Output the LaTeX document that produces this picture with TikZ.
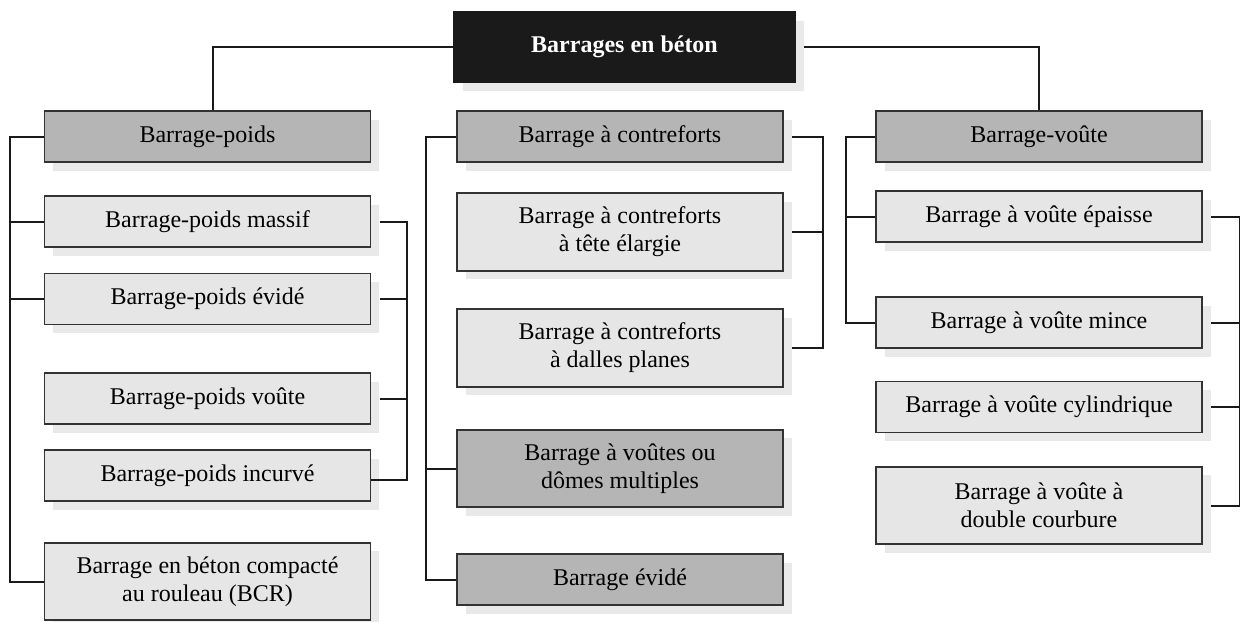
\documentclass[tikz,border=0pt]{standalone}
\usepackage{fontspec}
\setmainfont{Liberation Serif}
\usetikzlibrary{shadows}

\definecolor{fondclair}{HTML}{E6E6E6}
\definecolor{fondfonce}{HTML}{B5B5B5}
\definecolor{ombre}{HTML}{E9E9E9}
\definecolor{cadre}{HTML}{333333}
\definecolor{trait}{HTML}{1A1A1A}

\tikzset{
  boite/.style={draw=cadre, line width=0.9pt, align=center, inner sep=2pt,
    minimum width=163pt, minimum height=25.5pt, font=\fontsize{12}{14}\selectfont,
    drop shadow={shadow xshift=4.25pt, shadow yshift=-4.25pt, fill=ombre, opacity=1}},
  famille/.style={boite, fill=fondfonce},
  variante/.style={boite, fill=fondclair},
  deuxlignes/.style={minimum height=38.75pt},
  lien/.style={draw=trait, line width=1pt}
}

\begin{document}
\begin{tikzpicture}[x=0.5pt, y=-0.5pt]
\useasboundingbox (0,0) rectangle (1240,621);

% Racine
\node[boite, fill=trait, draw=trait, text=white, font=\fontsize{12}{14}\selectfont\bfseries,
      minimum width=170.5pt, minimum height=35pt] (racine) at (624.5,47) {Barrages en béton};

% Barrages-poids (gauche)
\node[famille] (poids) at (207.5,136.5) {Barrage-poids};
\node[variante] (massif) at (207.5,221.5) {Barrage-poids massif};
\node[variante] (evide) at (207.5,299) {Barrage-poids évidé};
\node[variante] (voutep) at (207.5,398.5) {Barrage-poids voûte};
\node[variante] (incurve) at (207.5,475.5) {Barrage-poids incurvé};
\node[variante, deuxlignes] (bcr) at (207.5,581.5) {Barrage en béton compacté\\au rouleau (BCR)};

% Barrages à contreforts (milieu)
\node[famille] (contreforts) at (620,136.5) {Barrage à contreforts};
\node[variante, deuxlignes] (tete) at (620,232) {Barrage à contreforts\\à tête élargie};
\node[variante, deuxlignes] (dalles) at (620,348) {Barrage à contreforts\\à dalles planes};
\node[famille, deuxlignes] (multiples) at (620,468.5) {Barrage à voûtes ou\\dômes multiples};
\node[famille] (evideb) at (620,579.5) {Barrage évidé};

% Barrages-voûtes (droite)
\node[famille] (voute) at (1039,136.5) {Barrage-voûte};
\node[variante] (epaisse) at (1039,216.5) {Barrage à voûte épaisse};
\node[variante] (mince) at (1039,322.5) {Barrage à voûte mince};
\node[variante] (cylindrique) at (1039,407) {Barrage à voûte cylindrique};
\node[variante, deuxlignes] (double) at (1039,505.5) {Barrage à voûte à\\double courbure};

% Liaisons depuis la racine
\draw[lien] (racine.west) -| ([xshift=2.5pt]poids.north);
\draw[lien] ([xshift=4.25pt]racine.east) -| (voute.north);

% Liaisons gauche
\coordinate (gauche) at ([xshift=-17pt]poids.west);
\draw[lien] (poids.west) -- (gauche) |- (bcr.west);
\foreach \n in {massif,evide}
    \draw[lien] (\n.west) -- (\n.west -| gauche);
\coordinate (gauched) at ([xshift=18pt]massif.east);
\draw[lien] ([xshift=4.25pt]massif.east) -- (gauched) |- ([yshift=-2pt]incurve.east);
\foreach \n in {evide,voutep}
    \draw[lien] ([xshift=4.25pt]\n.east) -- (\n.east -| gauched);

% Liaisons milieu
\coordinate (milieu) at ([xshift=-15pt]contreforts.west);
\draw[lien] (contreforts.west) -- (milieu) |- (evideb.west);
\draw[lien] (multiples.west) -- (multiples.west -| milieu);
\coordinate (milieud) at ([xshift=19.5pt]contreforts.east);
\draw[lien] ([xshift=4.25pt]contreforts.east) -- (milieud) |- ([xshift=4.25pt]dalles.east);
\draw[lien] ([xshift=4.25pt]tete.east) -- (tete.east -| milieud);

% Liaisons droite
\coordinate (droite) at ([xshift=-14.5pt]voute.west);
\draw[lien] (voute.west) -- (droite) |- (mince.west);
\draw[lien] (epaisse.west) -- (epaisse.west -| droite);
\coordinate (droited) at ([xshift=18.5pt]epaisse.east);
\draw[lien] ([xshift=4.25pt]epaisse.east) -- (droited) |- ([xshift=4.25pt]double.east);
\foreach \n in {mince,cylindrique}
    \draw[lien] ([xshift=4.25pt]\n.east) -- (\n.east -| droited);

\end{tikzpicture}
\end{document}
